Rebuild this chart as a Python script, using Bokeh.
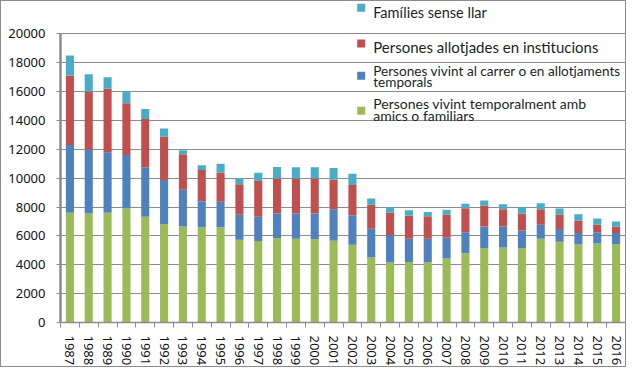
import numpy as np
from bokeh.plotting import figure
from bokeh.models import FixedTicker, Label, BoxAnnotation, ColumnDataSource, Range1d
from bokeh.embed import file_html
from bokeh.resources import INLINE

years = [str(y) for y in range(1987, 2017)]
amics = [7600, 7550, 7600, 7900, 7330, 6800, 6660, 6600, 6600, 5740,
         5650, 5850, 5800, 5780, 5670, 5380, 4500, 4150, 4200, 4170,
         4440, 4800, 5160, 5200, 5160, 5800, 5600, 5400, 5470, 5430]
carrer = [4700, 4420, 4200, 3700, 3430, 3070, 2540, 1800, 1760, 1730,
          1680, 1710, 1760, 1780, 2180, 2060, 2000, 1900, 1600, 1630,
          1430, 1460, 1500, 1460, 1210, 970, 880, 810, 790, 780]
institucions = [4800, 4030, 4400, 3600, 3340, 3000, 2460, 2160, 2020, 2110,
                2470, 2420, 2420, 2420, 2050, 2090, 1660, 1550, 1600, 1570,
                1620, 1650, 1430, 1190, 1190, 1080, 1010, 850, 510, 450]
families = [1400, 1200, 800, 800, 700, 580, 270, 340, 620, 420,
            580, 800, 780, 780, 800, 780, 440, 400, 380, 290,
            330, 320, 360, 350, 440, 420, 410, 440, 430, 340]
y_ticks = list(range(0, 20001, 2000))

series = ["amics", "carrer", "institucions", "families"]
colors = ["#9bbb59", "#4f81bd", "#c0504d", "#4bacc6"]
legend_labels = [
    ["Famílies sense llar"],
    ["Persones allotjades en institucions"],
    ["Persones vivint al carrer o en allotjaments", "temporals"],
    ["Persones vivint temporalment amb", "amics o familiars"],
]
legend_colors = ["#4bacc6", "#c0504d", "#4f81bd", "#9bbb59"]

# canvas size and frame margins (frame reaches the canvas top so that the
# legend above the 20000 line stays inside the drawable frame)
W, H = 626, 367
ML, MR, MT, MB = 59, 2, 0, 40
top_px = 33          # pixel row of the 20000 line inside the canvas
fw = W - ML - MR
fh = H - MT - MB
y_end = 20000 * fh / (fh - (top_px - MT))

xpos = np.arange(len(years)) + 0.5
source = ColumnDataSource(dict(x=xpos, amics=amics, carrer=carrer,
                               institucions=institucions, families=families))

p = figure(width=W, height=H, x_range=Range1d(0, len(years)),
           y_range=Range1d(0, y_end), output_backend="svg", toolbar_location=None,
           min_border_left=ML, min_border_right=MR, min_border_top=MT, min_border_bottom=MB)
p.styles = {"border": "1px solid #8c8c8c"}
p.outline_line_color = None
p.background_fill_color = "white"

p.vbar_stack(series, x="x", width=0.43, fill_color=colors, line_color=None, source=source)

# x axis
p.xaxis.ticker = FixedTicker(ticks=list(xpos), minor_ticks=list(range(len(years) + 1)))
p.xaxis.major_label_overrides = {float(xv): yr for xv, yr in zip(xpos, years)}
p.xaxis.major_label_orientation = "vertical"
p.xaxis.major_tick_out = 0
p.xaxis.major_tick_in = 0
p.xaxis.minor_tick_out = 5
p.xaxis.minor_tick_in = 0
p.xaxis.minor_tick_line_color = "#8c8c8c"
p.xaxis.axis_line_color = "#8c8c8c"
p.xaxis.axis_line_width = 1.5
p.xaxis.major_label_standoff = 8
p.xaxis.major_label_text_font = "Noto Sans"
p.xaxis.major_label_text_font_size = "13px"
p.xaxis.major_label_text_color = "#111111"

# y axis
p.yaxis.ticker = FixedTicker(ticks=y_ticks)
p.yaxis.bounds = (0, 20000)
p.yaxis.major_tick_out = 4
p.yaxis.major_tick_in = 0
p.yaxis.minor_tick_line_color = None
p.yaxis.major_tick_line_color = "#8c8c8c"
p.yaxis.axis_line_color = "#8c8c8c"
p.yaxis.axis_line_width = 2.5
p.yaxis.major_label_standoff = 11
p.yaxis.major_label_text_font = "Noto Sans"
p.yaxis.major_label_text_font_size = "13px"
p.yaxis.major_label_text_color = "#111111"

p.xgrid.visible = False
p.ygrid.ticker = FixedTicker(ticks=y_ticks[1:])
p.ygrid.grid_line_color = "#8c8c8c"
p.ygrid.grid_line_width = 1

# legend, in screen pixels measured from the frame's bottom-left corner
sq_bottoms = [310.7, 275, 242.7, 207.7]
line_y = [[309.7], [275.3], [252, 240.7], [219.3, 207.3]]
sizes = ["14.5px", "15px", "13.6px", "14px"]
for lab, col, sb, ly, fs in zip(legend_labels, legend_colors, sq_bottoms, line_y, sizes):
    p.add_layout(BoxAnnotation(left=296.7, right=304.7, bottom=sb, top=sb + 8,
                               left_units="screen", right_units="screen",
                               bottom_units="screen", top_units="screen",
                               fill_color=col, fill_alpha=1, line_color=None))
    for t, yy in zip(lab, ly):
        p.add_layout(Label(x=312.7, y=yy, x_units="screen", y_units="screen", text=t,
                           text_font="Lato", text_font_size=fs,
                           text_color="#231f20", text_baseline="alphabetic"))

open("out.html", "w").write(file_html(p, INLINE))
